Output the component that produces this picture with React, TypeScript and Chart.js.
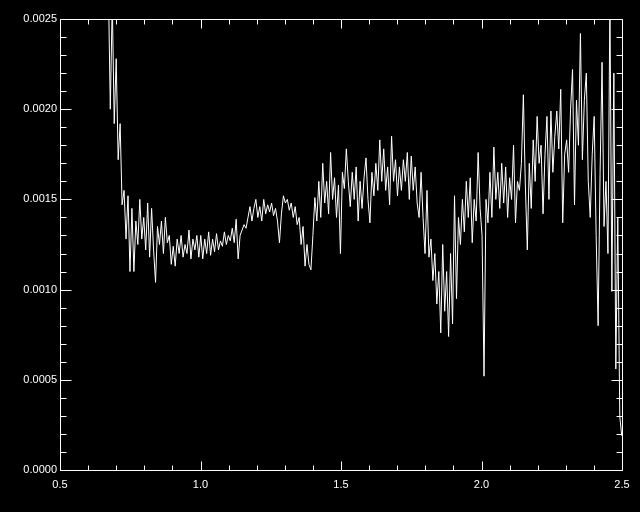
import { useEffect, useRef } from "react";
import { Chart, registerables } from "chart.js";

Chart.register(...registerables);

// Wavelength (x) samples
const wavelength = [
  0.672, 0.679, 0.686, 0.693, 0.700, 0.707, 0.714, 0.721, 0.728, 0.735,
  0.742, 0.749, 0.756, 0.763, 0.770, 0.777, 0.784, 0.791, 0.798, 0.805,
  0.812, 0.819, 0.826, 0.833, 0.840, 0.847, 0.854, 0.861, 0.868, 0.875,
  0.882, 0.889, 0.896, 0.903, 0.910, 0.917, 0.924, 0.931, 0.938, 0.945,
  0.952, 0.959, 0.966, 0.973, 0.980, 0.987, 0.994, 1.001, 1.008, 1.015,
  1.022, 1.029, 1.036, 1.043, 1.050, 1.057, 1.064, 1.071, 1.078, 1.085,
  1.092, 1.099, 1.106, 1.113, 1.120, 1.127, 1.134, 1.141, 1.148, 1.155,
  1.162, 1.169, 1.176, 1.183, 1.190, 1.197, 1.204, 1.211, 1.218, 1.225,
  1.232, 1.239, 1.246, 1.253, 1.260, 1.267, 1.274, 1.281, 1.288, 1.295,
  1.302, 1.309, 1.316, 1.323, 1.330, 1.337, 1.344, 1.351, 1.358, 1.365,
  1.372, 1.379, 1.386, 1.393, 1.400, 1.407, 1.414, 1.421, 1.428, 1.435,
  1.442, 1.449, 1.456, 1.463, 1.470, 1.477, 1.484, 1.491, 1.498, 1.505,
  1.512, 1.519, 1.526, 1.533, 1.540, 1.547, 1.554, 1.561, 1.568, 1.575,
  1.582, 1.589, 1.596, 1.603, 1.610, 1.617, 1.624, 1.631, 1.638, 1.645,
  1.652, 1.659, 1.666, 1.673, 1.680, 1.687, 1.694, 1.701, 1.708, 1.715,
  1.722, 1.729, 1.736, 1.743, 1.750, 1.757, 1.764, 1.771, 1.778, 1.785,
  1.792, 1.799, 1.806, 1.813, 1.820, 1.827, 1.834, 1.841, 1.848, 1.855,
  1.862, 1.869, 1.876, 1.883, 1.890, 1.897, 1.904, 1.911, 1.918, 1.925,
  1.932, 1.939, 1.946, 1.953, 1.960, 1.967, 1.974, 1.981, 1.988, 1.995,
  2.002, 2.009, 2.016, 2.023, 2.030, 2.037, 2.044, 2.051, 2.058, 2.065,
  2.072, 2.079, 2.086, 2.093, 2.100, 2.107, 2.114, 2.121, 2.128, 2.135,
  2.142, 2.149, 2.156, 2.163, 2.170, 2.177, 2.184, 2.191, 2.198, 2.205,
  2.212, 2.219, 2.226, 2.233, 2.240, 2.247, 2.254, 2.261, 2.268, 2.275,
  2.282, 2.289, 2.296, 2.303, 2.310, 2.317, 2.324, 2.331, 2.338, 2.345,
  2.352, 2.359, 2.366, 2.373, 2.380, 2.387, 2.394, 2.401, 2.408, 2.415,
  2.422, 2.429, 2.436, 2.443, 2.450, 2.457, 2.464, 2.471, 2.478, 2.485,
  2.492, 2.499,
];

// Flux (y) values
const flux = [
  0.00270, 0.00200, 0.00260, 0.00192, 0.00228, 0.00172, 0.00192, 0.00147, 0.00155, 0.00128,
  0.00152, 0.00110, 0.00145, 0.00110, 0.00138, 0.00125, 0.00150, 0.00128, 0.00140, 0.00122,
  0.00148, 0.00118, 0.00145, 0.00122, 0.00104, 0.00135, 0.00125, 0.00138, 0.00120, 0.00140,
  0.00126, 0.00130, 0.00114, 0.00124, 0.00113, 0.00128, 0.00120, 0.00130, 0.00118, 0.00125,
  0.00120, 0.00133, 0.00117, 0.00128, 0.00122, 0.00130, 0.00118, 0.00130, 0.00117, 0.00128,
  0.00120, 0.00132, 0.00119, 0.00128, 0.00121, 0.00131, 0.00122, 0.00127, 0.00124, 0.00132,
  0.00125, 0.00130, 0.00127, 0.00134, 0.00126, 0.00139, 0.00117, 0.00130, 0.00133, 0.00136,
  0.00134, 0.00140, 0.00146, 0.00138, 0.00145, 0.00150, 0.00140, 0.00146, 0.00138, 0.00150,
  0.00142, 0.00147, 0.00143, 0.00148, 0.00141, 0.00145, 0.00138, 0.00126, 0.00142, 0.00152,
  0.00148, 0.00150, 0.00144, 0.00148, 0.00140, 0.00146, 0.00136, 0.00140, 0.00125, 0.00135,
  0.00113, 0.00125, 0.00114, 0.00111, 0.00130, 0.00151, 0.00138, 0.00160, 0.00140, 0.00170,
  0.00148, 0.00160, 0.00142, 0.00176, 0.00150, 0.00162, 0.00140, 0.00158, 0.00120, 0.00165,
  0.00156, 0.00178, 0.00160, 0.00146, 0.00165, 0.00150, 0.00168, 0.00138, 0.00160, 0.00145,
  0.00162, 0.00173, 0.00150, 0.00137, 0.00165, 0.00152, 0.00170, 0.00155, 0.00183, 0.00160,
  0.00178, 0.00155, 0.00168, 0.00147, 0.00185, 0.00160, 0.00172, 0.00152, 0.00168, 0.00155,
  0.00172, 0.00160, 0.00176, 0.00150, 0.00174, 0.00155, 0.00168, 0.00148, 0.00140, 0.00165,
  0.00140, 0.00120, 0.00155, 0.00118, 0.00128, 0.00105, 0.00120, 0.00092, 0.00110, 0.00076,
  0.00125, 0.00088, 0.00110, 0.00074, 0.00120, 0.00081, 0.00152, 0.00095, 0.00140, 0.00125,
  0.00150, 0.00132, 0.00160, 0.00140, 0.00162, 0.00126, 0.00150, 0.00138, 0.00176, 0.00145,
  0.00130, 0.00052, 0.00150, 0.00137, 0.00165, 0.00140, 0.00179, 0.00150, 0.00165, 0.00145,
  0.00170, 0.00148, 0.00168, 0.00140, 0.00162, 0.00150, 0.00180, 0.00137, 0.00160, 0.00155,
  0.00170, 0.00208, 0.00158, 0.00122, 0.00170, 0.00145, 0.00183, 0.00160, 0.00196, 0.00170,
  0.00180, 0.00142, 0.00175, 0.00196, 0.00150, 0.00199, 0.00165, 0.00185, 0.00199, 0.00178,
  0.00211, 0.00137, 0.00175, 0.00183, 0.00165, 0.00200, 0.00222, 0.00147, 0.00205, 0.00180,
  0.00242, 0.00172, 0.00205, 0.00220, 0.00160, 0.00140, 0.00175, 0.00196, 0.00130, 0.00080,
  0.00165, 0.00226, 0.00135, 0.00160, 0.00120, 0.00260, 0.00099, 0.00220, 0.00056, 0.00140,
  0.00030, 0.00019,
];

const xTickValues = [0.5, 1.0, 1.5, 2.0, 2.5];
const xTickLabels = ["0.5", "1.0", "1.5", "2.0", "2.5"];
const yTickValues = [0, 0.0005, 0.001, 0.0015, 0.002, 0.0025];
const yTickLabels = ["0.0000", "0.0005", "0.0010", "0.0015", "0.0020", "0.0025"];
const xMinorTicks = [0.6, 0.7, 0.8, 0.9, 1.1, 1.2, 1.3, 1.4, 1.6, 1.7, 1.8, 1.9, 2.1, 2.2, 2.3, 2.4];
const yMinorTicks = [
  0.0001, 0.0002, 0.0003, 0.0004, 0.0006, 0.0007, 0.0008, 0.0009,
  0.0011, 0.0012, 0.0013, 0.0014, 0.0016, 0.0017, 0.0018, 0.0019,
  0.0021, 0.0022, 0.0023, 0.0024,
];

const framePlugin = {
  id: "idlFrame",
  afterDatasetsDraw(chart: any) {
    const { ctx, chartArea: a, scales } = chart;
    const xs = scales.x;
    const ys = scales.y;
    const L = Math.round(a.left) + 0.5;
    const R = Math.round(a.right) + 0.5;
    const T = Math.round(a.top) + 0.5;
    const B = Math.round(a.bottom) + 0.5;
    ctx.save();
    ctx.strokeStyle = "#ffffff";
    ctx.lineWidth = 1;
    ctx.beginPath();
    ctx.rect(L, T, R - L, B - T);
    const xTick = (v: number, len: number) => {
      const p = Math.round(xs.getPixelForValue(v)) + 0.5;
      ctx.moveTo(p, B);
      ctx.lineTo(p, B - len);
      ctx.moveTo(p, T);
      ctx.lineTo(p, T + len);
    };
    const yTick = (v: number, len: number) => {
      const p = Math.round(ys.getPixelForValue(v)) + 0.5;
      ctx.moveTo(L, p);
      ctx.lineTo(L + len, p);
      ctx.moveTo(R, p);
      ctx.lineTo(R - len, p);
    };
    xTickValues.forEach((v) => xTick(v, 9));
    xMinorTicks.forEach((v) => xTick(v, 5));
    yTickValues.forEach((v) => yTick(v, 11));
    yMinorTicks.forEach((v) => yTick(v, 6));
    ctx.stroke();
    ctx.restore();
  },
};

export default function App() {
  const ref = useRef<HTMLCanvasElement>(null);

  useEffect(() => {
    if (!ref.current) return;
    const chart = new Chart(ref.current, {
      type: "line",
      data: {
        datasets: [
          {
            data: wavelength.map((x, i) => ({ x, y: flux[i] })),
            borderColor: "#ffffff",
            borderWidth: 1,
            pointRadius: 0,
            tension: 0,
            fill: false,
          },
        ],
      },
      options: {
        animation: false,
        responsive: false,
        maintainAspectRatio: false,
        layout: { padding: { top: 19, right: 18, left: 0, bottom: 0 } },
        plugins: { legend: { display: false }, tooltip: { enabled: false } },
        scales: {
          x: {
            type: "linear",
            min: 0.5,
            max: 2.5,
            grid: { display: false, drawTicks: false },
            border: { display: false },
            afterBuildTicks: (s: any) => {
              s.ticks = xTickValues.map((value) => ({ value }));
            },
            afterFit: (s: any) => {
              s.height = 42;
            },
            ticks: {
              color: "#ffffff",
              font: { family: "'Liberation Sans', Arial, sans-serif", size: 11 },
              padding: 8,
              maxRotation: 0,
              autoSkip: false,
              callback: (_v: any, i: number) => xTickLabels[i],
            },
          },
          y: {
            type: "linear",
            min: 0,
            max: 0.0025,
            grid: { display: false, drawTicks: false },
            border: { display: false },
            afterBuildTicks: (s: any) => {
              s.ticks = yTickValues.map((value) => ({ value }));
            },
            afterFit: (s: any) => {
              s.width = 60;
            },
            ticks: {
              color: "#ffffff",
              font: { family: "'Liberation Sans', Arial, sans-serif", size: 11 },
              padding: 3,
              autoSkip: false,
              callback: (_v: any, i: number) => yTickLabels[i],
            },
          },
        },
      },
      plugins: [framePlugin],
    });
    return () => chart.destroy();
  }, []);

  return (
    <div style={{ position: "fixed", left: 0, top: 0, width: 640, height: 512, background: "#000" }}>
      <canvas ref={ref} width={640} height={512} style={{ display: "block", background: "#000" }} />
    </div>
  );
}
